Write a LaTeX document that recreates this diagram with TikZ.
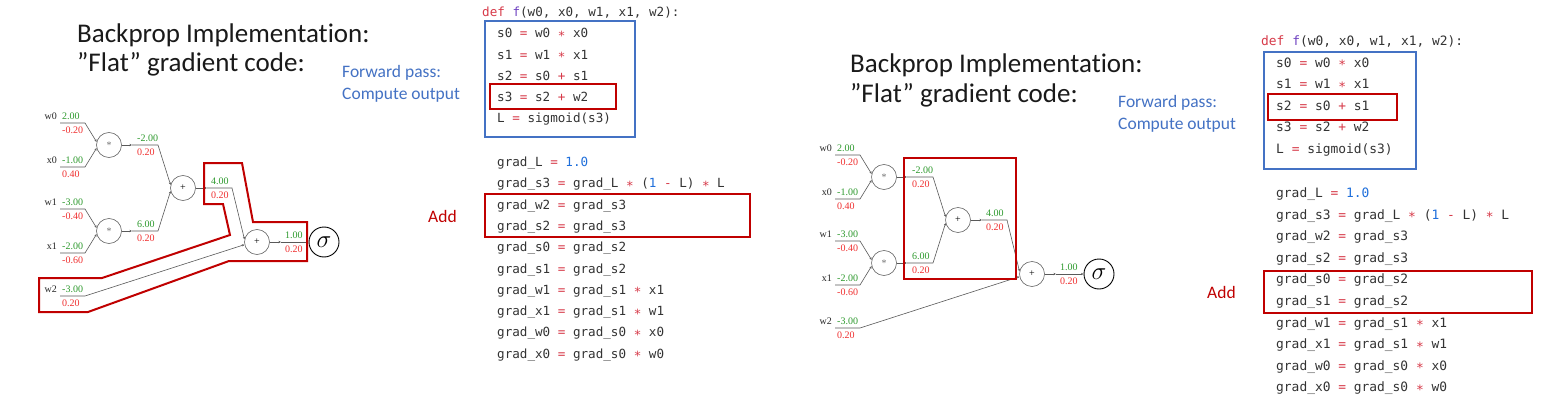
\documentclass[tikz,border=0pt]{standalone}
\usepackage{fontspec}
\setmainfont{Carlito}[Ligatures=NoCommon]
\newfontfamily\codefont{DejaVu Sans Mono}
\newfontfamily\graphfont{Liberation Serif}
\usetikzlibrary{arrows.meta}
\definecolor{codered}{HTML}{D73A49}
\definecolor{codepurple}{HTML}{6F42C1}
\definecolor{codeblue}{HTML}{1F6FDB}
\definecolor{codegray}{HTML}{333333}
\definecolor{boxred}{HTML}{C00000}
\definecolor{boxblue}{HTML}{4472C4}
\definecolor{valgreen}{HTML}{2E9A2E}
\definecolor{gradred}{HTML}{F03030}
\definecolor{titleblack}{HTML}{1A1A1A}
\newcommand\kw[1]{\textcolor{codered}{#1}}
\newcommand\fn[1]{\textcolor{codepurple}{#1}}
\newcommand\num[1]{\textcolor{codeblue}{#1}}
\newcommand\mul{\textcolor{codered}{\raisebox{-2.5pt}{*}}}
\newcommand\codelines[6]{%
  \node[code,font=\codefont\fontsize{#6}{#6}\selectfont] (#1def) at (#2-15,#3) {\kw{def} \fn{f}(w0, x0, w1, x1, w2):};
  \node[code,font=\codefont\fontsize{#6}{#6}\selectfont] (#1s0) at (#2,#3+#4) {s0 \kw{=} w0 \mul{} x0};
  \node[code,font=\codefont\fontsize{#6}{#6}\selectfont] (#1s1) at (#2,#3+2*#4) {s1 \kw{=} w1 \mul{} x1};
  \node[code,font=\codefont\fontsize{#6}{#6}\selectfont] (#1s2) at (#2,#3+3*#4) {s2 \kw{=} s0 \kw{+} s1};
  \node[code,font=\codefont\fontsize{#6}{#6}\selectfont] (#1s3) at (#2,#3+4*#4) {s3 \kw{=} s2 \kw{+} w2};
  \node[code,font=\codefont\fontsize{#6}{#6}\selectfont] (#1L) at (#2,#3+5*#4) {L \kw{=} sigmoid(s3)};
  \node[code,font=\codefont\fontsize{#6}{#6}\selectfont] (#1gL) at (#2,#5) {grad\_L \kw{=} \num{1.0}};
  \node[code,font=\codefont\fontsize{#6}{#6}\selectfont] (#1gs3) at (#2,#5+#4) {grad\_s3 \kw{=} grad\_L \mul{} (\num{1} \kw{-} L) \mul{} L};
  \node[code,font=\codefont\fontsize{#6}{#6}\selectfont] (#1gw2) at (#2,#5+2*#4) {grad\_w2 \kw{=} grad\_s3};
  \node[code,font=\codefont\fontsize{#6}{#6}\selectfont] (#1gs2) at (#2,#5+3*#4) {grad\_s2 \kw{=} grad\_s3};
  \node[code,font=\codefont\fontsize{#6}{#6}\selectfont] (#1gs0) at (#2,#5+4*#4) {grad\_s0 \kw{=} grad\_s2};
  \node[code,font=\codefont\fontsize{#6}{#6}\selectfont] (#1gs1) at (#2,#5+5*#4) {grad\_s1 \kw{=} grad\_s2};
  \node[code,font=\codefont\fontsize{#6}{#6}\selectfont] (#1gw1) at (#2,#5+6*#4) {grad\_w1 \kw{=} grad\_s1 \mul{} x1};
  \node[code,font=\codefont\fontsize{#6}{#6}\selectfont] (#1gx1) at (#2,#5+7*#4) {grad\_x1 \kw{=} grad\_s1 \mul{} w1};
  \node[code,font=\codefont\fontsize{#6}{#6}\selectfont] (#1gw0) at (#2,#5+8*#4) {grad\_w0 \kw{=} grad\_s0 \mul{} x0};
  \node[code,font=\codefont\fontsize{#6}{#6}\selectfont] (#1gx0) at (#2,#5+9*#4) {grad\_x0 \kw{=} grad\_s0 \mul{} w0};
}
% input leaf: prefix, name, value, grad, y of label, target
\newcommand\ginput[6]{%
  \node[glab,anchor=east] (#1#2) at (57,#5) {#2};
  \node[gval] (#1#2v) at (62,#5) {#3};
  \node[ggrad] (#1#2g) at (62,#5+14) {#4};
  \coordinate (#1#2s) at (60,#5+7);
  \coordinate (#1#2b) at (85,#5+7);
  \draw[edge] (#1#2s) -- (#1#2b) -- (#6);
}
\newcommand\goutput[5]{%
  \node[gval] (#1v) at (#2,#3-7) {#4};
  \node[ggrad] (#1g) at (#2,#3+7) {#5};
}
\newcommand\compgraph[1]{%
  \node[opnode] (#1m1) at (109,145) {\textcolor{black!55}{*}};
  \node[opnode] (#1m2) at (109,231) {\textcolor{black!55}{*}};
  \node[opnode] (#1p1) at (183,188) {+};
  \node[opnode] (#1p2) at (257,242) {+};
  \node[signode] (#1sig) at (324,242) {$\sigma$};
  \ginput{#1}{w0}{2.00}{-0.20}{116}{#1m1.166}
  \ginput{#1}{x0}{-1.00}{0.40}{160}{#1m1.194}
  \ginput{#1}{w1}{-3.00}{-0.40}{202}{#1m2.166}
  \ginput{#1}{x1}{-2.00}{-0.60}{246}{#1m2.194}
  \ginput{#1}{w2}{-3.00}{0.20}{289}{#1p2.192}
  \coordinate (#1m1b) at (158,145);
  \coordinate (#1m2b) at (158,231);
  \coordinate (#1p1b) at (232,188);
  \coordinate (#1m1c) at (132,145);
  \coordinate (#1m2c) at (132,231);
  \coordinate (#1p1c) at (207,188);
  \coordinate (#1p2c) at (281,242);
  \draw[edge] (#1m1) -- (#1m1c);
  \draw[edge] (#1m1c) -- (#1m1b) -- (#1p1.166);
  \draw[edge] (#1m2) -- (#1m2c);
  \draw[edge] (#1m2c) -- (#1m2b) -- (#1p1.194);
  \draw[edge] (#1p1) -- (#1p1c);
  \draw[edge] (#1p1c) -- (#1p1b) -- (#1p2.168);
  \draw[edge] (#1p2) -- (#1p2c);
  \draw[edge] (#1p2c) -- (#1sig);
  \goutput{#1m1o}{137}{145}{-2.00}{0.20}
  \goutput{#1m2o}{137}{231}{6.00}{0.20}
  \goutput{#1p1o}{211}{188}{4.00}{0.20}
  \goutput{#1p2o}{285}{242}{1.00}{0.20}
}
\tikzset{
  code/.style={anchor=base west,inner sep=0pt,text=codegray},
  titletext/.style={anchor=base west,inner sep=0pt,text=titleblack,font=\fontsize{27}{29}\selectfont},
  bluetext/.style={anchor=base west,inner sep=0pt,text=boxblue,font=\fontsize{17.5}{20}\selectfont},
  addtext/.style={anchor=base west,inner sep=0pt,text=boxred,font=\fontsize{17.5}{20}\selectfont},
  bluebox/.style={draw=boxblue,line width=1.8pt},
  redbox/.style={draw=boxred,line width=2pt,line join=miter},
  opnode/.style={circle,draw=black!60,line width=0.6pt,minimum size=25pt,inner sep=0pt,font=\graphfont\fontsize{10}{10}\selectfont},
  signode/.style={circle,draw=black,line width=0.9pt,minimum size=30pt,inner sep=0pt,font=\fontsize{26}{26}\selectfont},
  glab/.style={inner sep=0pt,font=\graphfont\fontsize{10}{10}\selectfont,text=black!85},
  gval/.style={anchor=west,inner sep=0pt,font=\graphfont\fontsize{10}{10}\selectfont,text=valgreen},
  ggrad/.style={anchor=west,inner sep=0pt,font=\graphfont\fontsize{10}{10}\selectfont,text=gradred},
  edge/.style={draw=black!65,line width=0.6pt,-{Stealth[length=2.5pt,width=2.2pt]}},
}
\begin{document}
\begin{tikzpicture}[x=1pt,y=-1pt]
\useasboundingbox[fill=white] (0,0) rectangle (1547,401);
% ---------- left panel ----------
\node[titletext] (Lt1) at (77,43) {Backprop Implementation:};
\node[titletext] (Lt2) at (77,72) {”Flat” gradient code:};
\node[bluetext] (Lfp) at (342,78) {Forward pass:};
\node[bluetext] (Lco) at (342,100) {Compute output};
\node[addtext] (Ladd) at (428,222) {Add};
\codelines{L}{497}{16.5}{21.3}{166.5}{12.6}
\draw[bluebox] (485,21) rectangle (635,137);
\draw[redbox] (490,84) rectangle (616,109);
\draw[redbox] (485,194) rectangle (750,237);
\compgraph{A}
\draw[redbox] (204,163) -- (242,163) -- (253,222) -- (307,222) -- (307,261) -- (229,261) -- (88,312) -- (39,312) -- (39,278) -- (102,278) -- (230,235) -- (223,204) -- (204,204) -- cycle;
% ---------- right panel ----------
\node[titletext] (Rt1) at (850,73) {Backprop Implementation:};
\node[titletext] (Rt2) at (850,103) {”Flat” gradient code:};
\node[bluetext] (Rfp) at (1118,108) {Forward pass:};
\node[bluetext] (Rco) at (1118,130) {Compute output};
\node[addtext] (Radd) at (1207,298) {Add};
\codelines{R}{1276}{45.5}{21.6}{197.5}{12.9}
\draw[bluebox] (1264,52) rectangle (1416,169);
\draw[redbox] (1268,94) rectangle (1397,120);
\draw[redbox] (1264,271) rectangle (1532,313);
\begin{scope}[shift={(775,32)}]
\compgraph{B}
\end{scope}
\draw[redbox] (904,158) rectangle (1016,279);
\end{tikzpicture}
\end{document}
